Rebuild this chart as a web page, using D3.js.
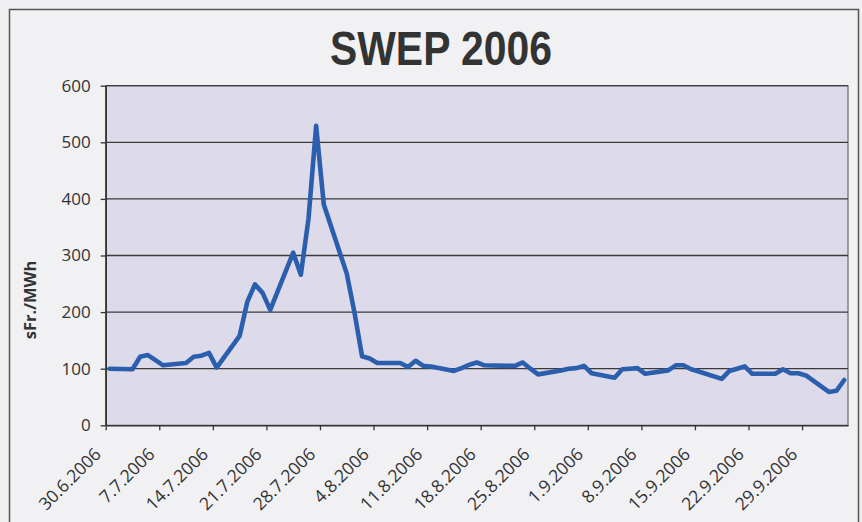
<!DOCTYPE html>
<html>
<head>
<meta charset="utf-8">
<script src="https://cdn.jsdelivr.net/npm/d3@7"></script>
<style>
  html, body { margin: 0; padding: 0; background: #efeff1; }
  svg { display: block; }
</style>
</head>
<body>
<svg id="chart" width="862" height="522"></svg>
<script>
// ---- data ----
const dates = [
  "30.6.2006","3.7.2006","4.7.2006","5.7.2006","6.7.2006","7.7.2006",
  "10.7.2006","11.7.2006","12.7.2006","13.7.2006","14.7.2006",
  "17.7.2006","18.7.2006","19.7.2006","20.7.2006","21.7.2006",
  "24.7.2006","25.7.2006","26.7.2006","27.7.2006","28.7.2006",
  "31.7.2006","1.8.2006","2.8.2006","3.8.2006","4.8.2006",
  "7.8.2006","8.8.2006","9.8.2006","10.8.2006","11.8.2006",
  "14.8.2006","15.8.2006","16.8.2006","17.8.2006","18.8.2006",
  "21.8.2006","22.8.2006","23.8.2006","24.8.2006","25.8.2006",
  "28.8.2006","29.8.2006","30.8.2006","31.8.2006","1.9.2006",
  "4.9.2006","5.9.2006","6.9.2006","7.9.2006","8.9.2006",
  "11.9.2006","12.9.2006","13.9.2006","14.9.2006","15.9.2006",
  "18.9.2006","19.9.2006","20.9.2006","21.9.2006","22.9.2006",
  "25.9.2006","26.9.2006","27.9.2006","28.9.2006","29.9.2006",
  "2.10.2006","3.10.2006","4.10.2006"
];
const values = [
  100, 99, 121, 124, 115, 106,
  110, 121, 123, 128, 102,
  158, 218, 249, 234, 204,
  305, 266, 365, 529, 390,
  268, 200, 122, 118, 110,
  110, 103, 114, 105, 104,
  96, 101, 107, 111, 106,
  105, 105, 111, 100, 90,
  97, 100, 101, 105, 92,
  84, 99, 100, 101, 91,
  97, 106, 106, 99, 95,
  82, 96, 100, 104, 91,
  91, 99, 92, 92, 88,
  59, 61, 80
];
const xTickLabels = [
  "30.6.2006","7.7.2006","14.7.2006","21.7.2006","28.7.2006","4.8.2006",
  "11.8.2006","18.8.2006","25.8.2006","1.9.2006","8.9.2006","15.9.2006",
  "22.9.2006","29.9.2006"
];
const yTicks = [0, 100, 200, 300, 400, 500, 600];
const xDomain = ["30.6.2006", "5.10.2006"];
const title = "SWEP 2006";
const yLabel = "sFr./MWh";

// ---- chart ----
const parse = d3.utcParse("%d.%m.%Y");
const svg = d3.select("#chart");
const W = 862, H = 522;
const m = { left: 105.7, right: 848, top: 85.7, bottom: 425.3 };

svg.append("rect").attr("x", 0).attr("y", 0).attr("width", W).attr("height", H).attr("fill", "#efeff1");
svg.append("rect").attr("x", 9.5).attr("y", 9.5).attr("width", 849).attr("height", 530)
  .attr("fill", "#f1f1f3").attr("stroke", "#555").attr("stroke-width", 1.5);

const x = d3.scaleUtc().domain(xDomain.map(parse)).range([m.left, m.right]);
const y = d3.scaleLinear().domain([0, 600]).range([m.bottom, m.top]);

// plot area
svg.append("rect")
  .attr("x", m.left).attr("y", m.top)
  .attr("width", m.right - m.left).attr("height", m.bottom - m.top)
  .attr("fill", "#dddbea").attr("stroke", "#6a6a6a").attr("stroke-width", 1.2);

// gridlines
svg.append("g").selectAll("line").data(yTicks.filter(v => v > 0)).join("line")
  .attr("x1", m.left).attr("x2", m.right)
  .attr("y1", d => y(d)).attr("y2", d => y(d))
  .attr("stroke", "#3a3a3a").attr("stroke-width", 1.3);

// y axis
const yAxis = svg.append("g").attr("transform", `translate(${m.left},0)`)
  .call(d3.axisLeft(y).tickValues(yTicks).tickSize(5).tickPadding(10).tickSizeOuter(0));
yAxis.select(".domain").attr("stroke", "#333").attr("stroke-width", 1.6);
yAxis.selectAll(".tick line").attr("stroke", "#333").attr("stroke-width", 1.3);
yAxis.selectAll("text").attr("fill", "#333").style("font-family", "'Open Sans', sans-serif").style("font-size", "17px");

// x axis
const xAxis = svg.append("g").attr("transform", `translate(0,${m.bottom})`)
  .call(d3.axisBottom(x).tickValues(xTickLabels.map(parse)).tickSize(5).tickSizeOuter(0)
    .tickFormat((d, i) => xTickLabels[i]));
xAxis.select(".domain").attr("stroke", "#333").attr("stroke-width", 1.6);
xAxis.selectAll(".tick line").attr("stroke", "#333").attr("stroke-width", 1.3);
xAxis.selectAll("text")
  .attr("fill", "#333")
  .style("font-family", "'Open Sans', sans-serif").style("font-size", "17.5px")
  .attr("text-anchor", "end")
  .attr("dy", "0")
  .attr("transform", "translate(-4,30) rotate(-45)")
  .attr("y", 0).attr("x", 0);

// line
const pts = dates.map((d, i) => ({ t: new Date(+parse(d) + 12 * 3600 * 1000), v: values[i] }));
svg.append("path").datum(pts)
  .attr("fill", "none").attr("stroke", "#2b5fae").attr("stroke-width", 4.6)
  .attr("stroke-linejoin", "round").attr("stroke-linecap", "round")
  .attr("d", d3.line().x(d => x(d.t)).y(d => y(d.v)));

// title
svg.append("text").attr("x", 441).attr("y", 65).attr("text-anchor", "middle")
  .attr("textLength", 222).attr("lengthAdjust", "spacingAndGlyphs")
  .style("font-family", "'Liberation Sans', Arial, sans-serif").style("font-weight", "bold")
  .style("font-size", "48px").attr("fill", "#333").text(title);

// y label
svg.append("text").attr("transform", "translate(36,300) rotate(-90)")
  .attr("text-anchor", "middle")
  .style("font-family", "'Open Sans', sans-serif").style("font-weight", "bold")
  .style("font-size", "16.5px").attr("fill", "#333").text(yLabel);
</script>
</body>
</html>
